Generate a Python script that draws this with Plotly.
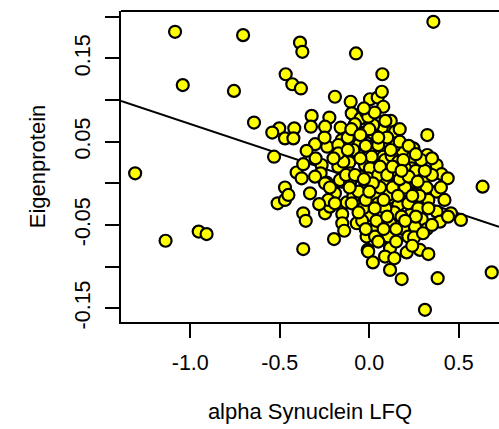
import plotly.graph_objects as go

# alpha Synuclein LFQ (x) vs Eigenprotein (y)
x_vals = [
    -1.085, -0.705, -1.042, -0.756, -0.644, -1.308, -1.138, -0.953, -0.909, 0.358,
    -0.387, -0.374, -0.074, -0.467, -0.430, -0.382, 0.073, -0.192, -0.104, 0.004,
    0.047, 0.078, -0.503, -0.542, -0.419, -0.471, -0.424, -0.322, -0.326, -0.223,
    -0.247, -0.160, -0.098, -0.048, -0.018, -0.080, 0.112, 0.120, 0.144, 0.069,
    -0.028, 0.022, 0.324, -0.532, -0.303, -0.350, -0.235, -0.154, -0.145, -0.056,
    0.022, -0.006, 0.082, 0.078, 0.187, 0.246, 0.240, 0.324, 0.376, 0.404,
    0.438, 0.633, -0.406, -0.369, -0.266, -0.272, -0.173, -0.112, -0.006, -0.471,
    -0.331, -0.192, -0.042, 0.116, 0.218, 0.255, 0.376, 0.293, 0.200, 0.093,
    -0.108, -0.154, -0.238, -0.145, -0.303, -0.247, -0.164, -0.108, -0.047, -0.024,
    -0.378, -0.173, -0.173, -0.089, 0.022, -0.006, 0.013, 0.004, 0.088, 0.125,
    0.237, 0.246, 0.088, 0.162, 0.106, 0.032, -0.006, 0.050, 0.162, 0.200,
    -0.512, -0.471, -0.452, -0.369, -0.355, -0.369, -0.197, -0.247, -0.220, -0.229,
    -0.151, -0.151, -0.140, -0.126, -0.089, -0.070, -0.015, -0.009, 0.004, 0.013,
    -0.034, -0.098, -0.192, 0.050, 0.065, 0.116, 0.028, 0.106, 0.190, 0.218,
    0.227, 0.162, 0.218, 0.293, 0.321, 0.283, 0.209, 0.116, 0.088, 0.116,
    0.181, 0.382, 0.311, 0.376, 0.456, 0.512, 0.395, 0.330, 0.274, -0.006,
    0.032, 0.255, 0.684,
    0.050, 0.140, 0.170, 0.200, 0.260, 0.300, 0.320, 0.140, 0.060, -0.060,
    -0.020, 0.100, 0.180, 0.250, 0.040, -0.050, 0.150, 0.280, 0.350, -0.120,
    0.000, -0.040, 0.090,
    0.020, 0.060, 0.100, 0.130, 0.170, 0.220, 0.270, 0.310, 0.330, 0.290,
    0.220, 0.190, 0.130, 0.080, 0.030, -0.020, -0.060, -0.110, -0.130, -0.080,
    -0.030, 0.000, 0.050, 0.120, 0.160, 0.240, 0.260, 0.200, 0.150, 0.080,
    0.050, 0.150, 0.240, 0.350, 0.420, 0.400, 0.300, -0.200, -0.250, -0.300,
    -0.220, -0.280, -0.100, -0.050, 0.030, 0.090, 0.170, -0.030, 0.070, -0.120,
    0.100, -0.020, 0.180, 0.260, 0.350, 0.440, 0.330, 0.020, 0.140,
]
y_vals = [
    0.182, 0.178, 0.118, 0.111, 0.073, 0.012, -0.069, -0.058, -0.061, 0.194,
    0.169, 0.158, 0.156, 0.131, 0.119, 0.114, 0.131, 0.104, 0.098, 0.101,
    0.103, 0.092, 0.066, 0.061, 0.066, 0.054, 0.054, 0.081, 0.068, 0.079,
    0.068, 0.067, 0.084, 0.078, 0.085, 0.071, 0.066, 0.075, 0.062, 0.066,
    0.061, 0.060, 0.058, 0.032, 0.047, 0.039, 0.044, 0.052, 0.040, 0.047,
    0.044, 0.032, 0.042, 0.032, 0.038, 0.042, 0.031, 0.034, 0.022, 0.011,
    0.006, -0.004, 0.013, 0.023, 0.022, 0.012, 0.020, 0.025, 0.020, -0.005,
    -0.012, -0.012, -0.009, -0.017, -0.010, 0.001, -0.010, -0.011, 0.010, 0.002,
    0.012, 0.002, 0.001, 0.026, 0.008, 0.000, 0.004, 0.000, 0.008, 0.022,
    0.006, 0.046, 0.036, 0.040, 0.070, 0.080, 0.032, 0.018, 0.028, 0.033,
    0.018, 0.002, 0.004, 0.000, -0.014, -0.014, 0.006, 0.046, 0.026, 0.018,
    -0.024, -0.020, -0.014, -0.036, -0.045, -0.079, -0.067, -0.036, -0.028, -0.020,
    -0.037, -0.048, -0.057, -0.023, -0.016, -0.048, -0.064, -0.080, -0.038, -0.056,
    -0.030, -0.024, -0.024, -0.024, -0.039, -0.048, -0.056, -0.064, -0.055, -0.064,
    -0.038, -0.026, -0.024, -0.043, -0.055, -0.080, -0.083, -0.078, -0.088, -0.104,
    -0.115, -0.114, -0.152, -0.034, -0.036, -0.044, -0.046, -0.020, -0.030, -0.082,
    -0.064, -0.052, -0.107,
    0.010, 0.045, 0.050, -0.005, 0.015, 0.005, -0.005, -0.035, -0.005, -0.010,
    0.045, 0.055, -0.040, -0.065, -0.045, 0.030, 0.012, -0.015, 0.010, 0.055,
    0.065, -0.045, -0.030,
    0.000, 0.020, 0.010, -0.005, 0.005, 0.008, 0.002, 0.015, -0.030, 0.028,
    0.045, 0.028, 0.020, -0.020, -0.030, -0.020, -0.035, -0.005, 0.010, 0.010,
    0.005, -0.010, 0.055, 0.040, -0.015, -0.015, -0.040, -0.045, -0.055, -0.055,
    -0.070, -0.070, -0.075, -0.050, -0.020, -0.005, -0.060, 0.030, 0.055, 0.030,
    -0.005, -0.025, 0.065, 0.058, 0.085, 0.075, 0.065, 0.090, 0.110, 0.040,
    -0.040, -0.055, 0.015, 0.035, 0.030, -0.040, -0.085, -0.095, -0.090,
]

# fitted regression line (intercept, slope)
fit_intercept = -0.0004
fit_slope = -0.0717

x_range = [-1.387, 0.7246]
y_range = [-0.1666, 0.207]
x_ticks = [-1.0, -0.5, 0.0, 0.5]
x_ticklabels = ["-1.0", "-0.5", "0.0", "0.5"]
y_ticks = [-0.15, -0.10, -0.05, 0.00, 0.05, 0.10, 0.15, 0.20]
y_ticklabels = ["-0.15", "", "-0.05", "", "0.05", "", "0.15", ""]

FONT = "Liberation Sans, Arial, Helvetica, sans-serif"

fig = go.Figure()
line_x = [x_range[0], x_range[1]]
line_y = [fit_intercept + fit_slope * v for v in line_x]
fig.add_trace(go.Scatter(
    x=line_x, y=line_y, mode="lines",
    line=dict(color="black", width=2), hoverinfo="skip", showlegend=False,
))
fig.add_trace(go.Scatter(
    x=x_vals, y=y_vals, mode="markers",
    marker=dict(symbol="circle", size=12, color="#FFFF00",
                line=dict(color="black", width=2.2)),
    hoverinfo="skip", showlegend=False,
))

fig.update_layout(
    width=499, height=429,
    margin=dict(l=121, r=0, t=11, b=107),
    paper_bgcolor="white", plot_bgcolor="white",
    font=dict(family=FONT, size=21.5, color="black"),
    xaxis=dict(
        range=x_range, tickvals=x_ticks, ticktext=x_ticklabels,
        ticks="outside", ticklen=14, tickwidth=2, tickcolor="black",
        showline=True, linewidth=2, linecolor="black",
        showgrid=False, zeroline=False,
        ticklabelstandoff=6,
        title=dict(text="alpha Synuclein LFQ", font=dict(size=22), standoff=30),
    ),
    yaxis=dict(
        range=y_range, tickvals=y_ticks, ticktext=y_ticklabels,
        ticks="outside", ticklen=14, tickwidth=2, tickcolor="black",
        showline=True, linewidth=2, linecolor="black",
        showgrid=False, zeroline=False, tickangle=-90,
        ticklabelstandoff=6,
        title=dict(text="Eigenprotein", font=dict(size=22), standoff=20),
    ),
    shapes=[dict(type="line", xref="paper", yref="paper", x0=0, x1=1.05, y0=1, y1=1,
                 line=dict(color="black", width=2))],
)

fig.write_html("out.html")
